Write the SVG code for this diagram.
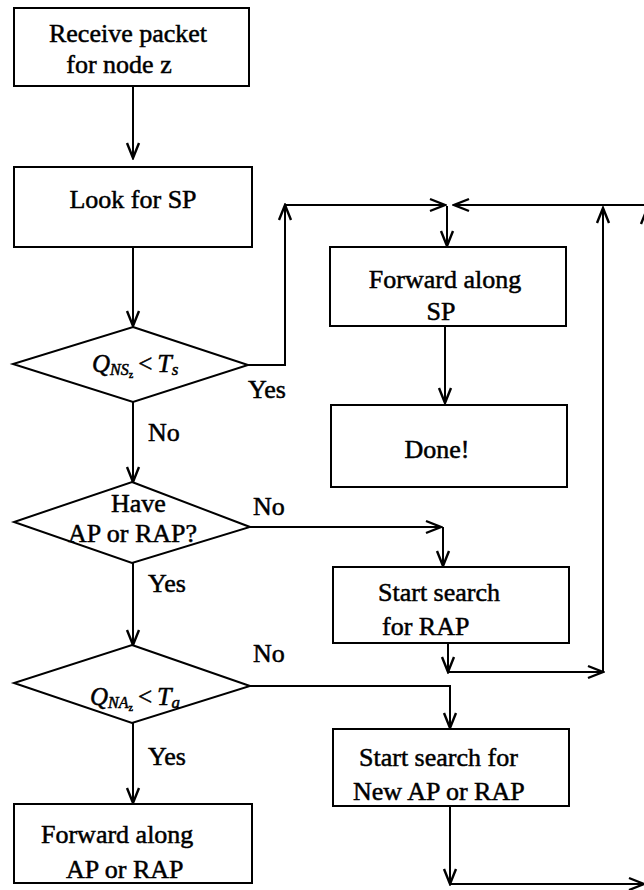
<svg xmlns="http://www.w3.org/2000/svg" width="644" height="890" viewBox="0 0 644 890">
<style>
.t{font-family:"Liberation Serif","Times New Roman",serif;font-size:26px;fill:#000;stroke:#000;stroke-width:0.5}
.i{font-style:italic}
.box{fill:#fff;stroke:#000;stroke-width:2}
.ln{fill:none;stroke:#000;stroke-width:2}
.c{text-anchor:middle}
</style>
<defs>
<marker id="ah" markerUnits="userSpaceOnUse" viewBox="-17 -8 19 16" markerWidth="19" markerHeight="16" refX="0" refY="0" orient="auto">
<path d="M-15,-6 L0,0 L-15,6" fill="none" stroke="#000" stroke-width="2.4"/>
</marker>
</defs>
<rect width="644" height="890" fill="#fff"/>
<g id="connectors">
<path class="ln" d="M133,86 V158" marker-end="url(#ah)"/>
<path class="ln" d="M133,247 V326" marker-end="url(#ah)"/>
<path class="ln" d="M248,365 H285 V205" marker-end="url(#ah)"/>
<path class="ln" d="M285,205 H445" marker-end="url(#ah)"/>
<path class="ln" d="M660,205 H454" marker-end="url(#ah)"/>
<path class="ln" d="M447,206 V246" marker-end="url(#ah)"/>
<path class="ln" d="M445,326 V403" marker-end="url(#ah)"/>
<path class="ln" d="M133,402 V482" marker-end="url(#ah)"/>
<path class="ln" d="M250,527 H441" marker-end="url(#ah)"/>
<path class="ln" d="M443,527 V566" marker-end="url(#ah)"/>
<path class="ln" d="M448,643 V672" marker-end="url(#ah)"/>
<path class="ln" d="M448,672 H603" marker-end="url(#ah)"/>
<path class="ln" d="M603,672 V208" marker-end="url(#ah)"/>
<path class="ln" d="M133,563 V645" marker-end="url(#ah)"/>
<path class="ln" d="M250,686 H450 V728" marker-end="url(#ah)"/>
<path class="ln" d="M133,723 V803" marker-end="url(#ah)"/>
<path class="ln" d="M450,806 V884" marker-end="url(#ah)"/>
<path class="ln" d="M450,884 H644" marker-end="url(#ah)"/>
<path class="ln" d="M647,884 V209" marker-end="url(#ah)"/>
</g>
<g id="n1">
<rect class="box" x="14" y="8" width="235" height="78"/>
<text class="t c" x="128" y="42">Receive packet</text>
<text class="t c" x="119" y="73">for node z</text>
</g>
<g id="n2">
<rect class="box" x="14" y="167" width="238" height="80"/>
<text class="t c" x="133" y="208">Look for SP</text>
</g>
<g id="n3">
<polygon class="box" points="133,327 248,365 133,402 13,364"/>
<text class="t" x="92" y="372"><tspan class="i" font-size="25">Q</tspan><tspan class="i" font-size="16" dy="3">NS</tspan><tspan font-size="10" dy="3">z</tspan><tspan font-size="25" dy="-6" dx="5">&lt;</tspan><tspan class="i" font-size="26" dx="5">T</tspan><tspan class="i" font-size="17" dy="3">s</tspan></text>
</g>
<g id="n4">
<rect class="box" x="330" y="247" width="236" height="79"/>
<text class="t c" x="445" y="288">Forward along</text>
<text class="t c" x="441" y="320">SP</text>
</g>
<g id="n5">
<rect class="box" x="331" y="405" width="236" height="82"/>
<text class="t c" x="437" y="458">Done!</text>
</g>
<g id="n6">
<polygon class="box" points="132,482 250,527 132,563 14,522"/>
<text class="t" x="111" y="512">Have</text>
<text class="t" x="68" y="542">AP or RAP?</text>
</g>
<g id="n7">
<rect class="box" x="333" y="567" width="236" height="76"/>
<text class="t" x="378" y="601">Start search</text>
<text class="t" x="382" y="635">for RAP</text>
</g>
<g id="n8">
<polygon class="box" points="132,645 250,686 132,723 14,683"/>
<text class="t" x="90" y="705"><tspan class="i" font-size="25">Q</tspan><tspan class="i" font-size="16" dy="3">NA</tspan><tspan font-size="10" dy="3">z</tspan><tspan font-size="25" dy="-6" dx="5">&lt;</tspan><tspan class="i" font-size="26" dx="5">T</tspan><tspan class="i" font-size="17" dy="3">a</tspan></text>
</g>
<g id="n9">
<rect class="box" x="333" y="729" width="236" height="77"/>
<text class="t" x="359" y="766">Start search for</text>
<text class="t" x="353" y="800">New AP or RAP</text>
</g>
<g id="n10">
<rect class="box" x="14" y="804" width="238" height="79"/>
<text class="t" x="41" y="843">Forward along</text>
<text class="t" x="66" y="878">AP or RAP</text>
</g>
<g id="labels">
<text class="t" x="248" y="398">Yes</text>
<text class="t" x="148" y="441">No</text>
<text class="t" x="253" y="515">No</text>
<text class="t" x="148" y="592">Yes</text>
<text class="t" x="253" y="662">No</text>
<text class="t" x="148" y="765">Yes</text>
</g>
</svg>
